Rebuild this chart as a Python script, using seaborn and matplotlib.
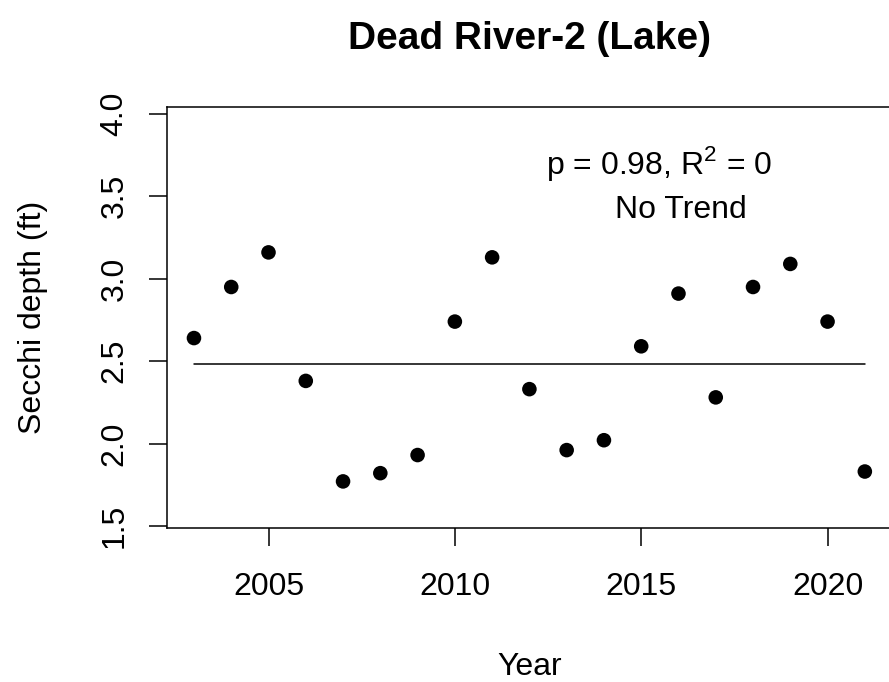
import numpy as np
import pandas as pd
import matplotlib
matplotlib.use("Agg")
import matplotlib.pyplot as plt
import seaborn as sns

# values
years = [2003, 2004, 2005, 2006, 2007, 2008, 2009, 2010, 2011, 2012,
         2013, 2014, 2015, 2016, 2017, 2018, 2019, 2020, 2021]
secchi = [2.64, 2.95, 3.16, 2.38, 1.77, 1.82, 1.93, 2.74, 3.13, 2.33,
          1.96, 2.02, 2.59, 2.91, 2.28, 2.95, 3.09, 2.74, 1.83]
trend_years = [2003, 2021]
trend_vals = [2.48, 2.48]
x_ticks = [2005, 2010, 2015, 2020]
y_ticks = [1.5, 2.0, 2.5, 3.0, 3.5, 4.0]
stat_text = "p = 0.98, R$^2$ = 0"
trend_text = "No Trend"

sns.set_theme(style="white")
plt.rcParams['font.family'] = ['Liberation Sans', 'DejaVu Sans']
plt.rcParams['mathtext.fontset'] = 'custom'
plt.rcParams['mathtext.rm'] = 'Liberation Sans'
plt.rcParams['text.color'] = 'black'
plt.rcParams['axes.labelcolor'] = 'black'

df = pd.DataFrame({'year': years, 'secchi': secchi})
trend = pd.DataFrame({'year': trend_years, 'val': trend_vals})

fig = plt.figure(figsize=(8.89, 6.82), dpi=100)
ax = fig.add_axes([0.188, 0.226, 0.815, 0.617])

sns.lineplot(data=trend, x='year', y='val', color='black', linewidth=1.1, ax=ax)
sns.scatterplot(data=df, x='year', y='secchi', color='black', s=110,
                edgecolor='none', ax=ax, zorder=3)

ax.set_xlim(2002.28, 2021.72)
ax.set_ylim(1.488, 4.042)
ax.set_xticks(x_ticks)
ax.set_yticks(y_ticks)
ax.set_yticklabels([f"{v:.1f}" for v in y_ticks], rotation=90, va='center')

for sp in ax.spines.values():
    sp.set_color('black')
    sp.set_linewidth(1.1)
    sp.set_visible(True)

ax.tick_params(axis='both', direction='out', length=13, width=1.1,
               color='black', labelsize=23, labelcolor='black',
               bottom=True, left=True)
ax.tick_params(axis='x', pad=19)
ax.tick_params(axis='y', pad=14)

ax.set_xlabel("Year", fontsize=23, labelpad=36, color='black')
ax.set_ylabel("Secchi depth (ft)", fontsize=23, labelpad=37, color='black')
ax.set_title("Dead River-2 (Lake)", fontsize=28, fontweight='bold', pad=42,
             color='black')

ax.text(2015.47, 3.70, stat_text, fontsize=23, ha='center', va='center')
ax.text(2016.07, 3.42, trend_text, fontsize=23, ha='center', va='center')

fig.savefig("out.png", dpi=100)
